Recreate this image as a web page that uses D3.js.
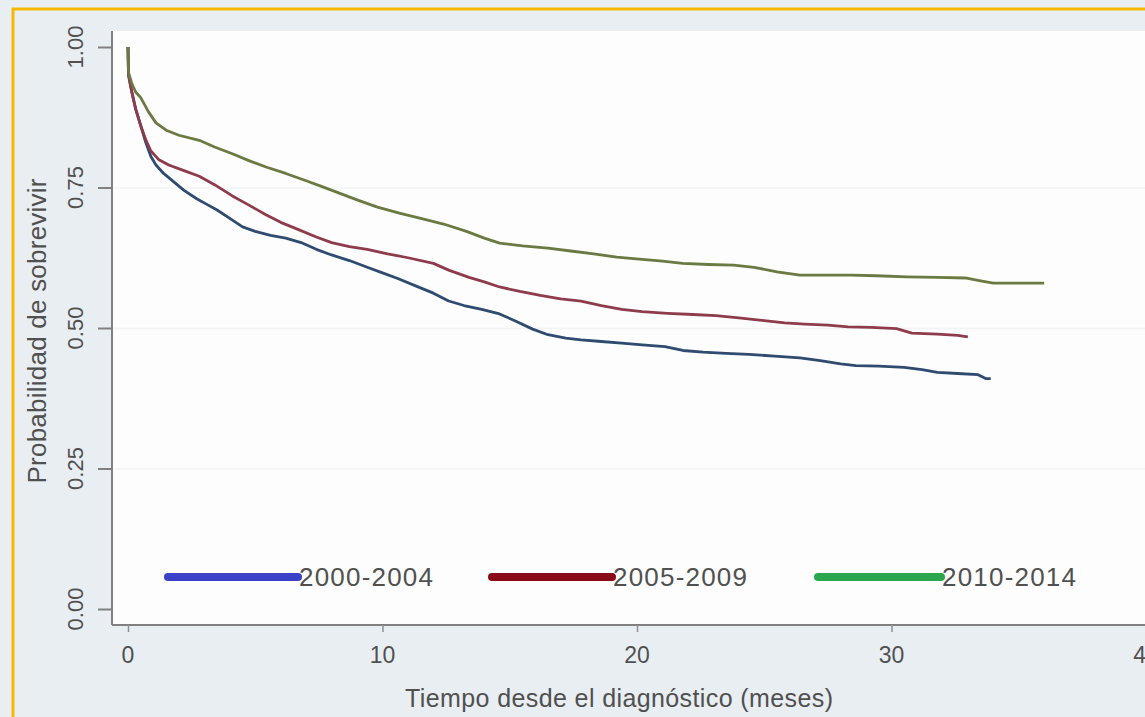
<!DOCTYPE html>
<html>
<head>
  <meta charset="utf-8">
  <script src="https://cdnjs.cloudflare.com/ajax/libs/d3/7.8.5/d3.min.js"></script>
  <style>
    body { margin: 0; background: #e9eef2; }
    text { font-family: "Liberation Sans", Arial, sans-serif; fill: #505050; }
  </style>
</head>
<body>
<svg width="1145" height="717"></svg>
<script>
var xTicks = [0, 10, 20, 30, 40];
var yTicks = [0, 0.25, 0.5, 0.75, 1];
var yTickLabels = ["0.00", "0.25", "0.50", "0.75", "1.00"];
var groups = ["2000-2004", "2005-2009", "2010-2014"];

// [months, survival]
var s2000 = [[0,1.0],[0.02,0.95],[0.15,0.92],[0.3,0.89],[0.5,0.86],[0.7,0.83],[0.9,0.805],[1.1,0.79],[1.4,0.775],[1.8,0.76],[2.2,0.745],[2.7,0.73],[3.1,0.72],[3.5,0.71],[4.0,0.695],[4.5,0.68],[5.0,0.672],[5.6,0.665],[6.2,0.66],[6.8,0.652],[7.4,0.64],[8.0,0.63],[8.7,0.62],[9.4,0.608],[10.0,0.598],[10.6,0.588],[11.3,0.575],[12.0,0.562],[12.6,0.548],[13.2,0.54],[13.9,0.533],[14.6,0.525],[15.2,0.513],[15.9,0.498],[16.5,0.488],[17.2,0.482],[17.8,0.479],[18.6,0.476],[19.4,0.473],[20.2,0.47],[21.1,0.467],[21.8,0.46],[22.6,0.457],[23.5,0.455],[24.4,0.453],[25.4,0.45],[26.4,0.447],[27.2,0.442],[28.0,0.436],[28.6,0.433],[29.5,0.432],[30.5,0.43],[31.2,0.426],[31.8,0.421],[32.6,0.419],[33.4,0.417],[33.7,0.41],[33.9,0.41]];
var s2005 = [[0,1.0],[0.02,0.95],[0.15,0.92],[0.3,0.89],[0.5,0.86],[0.7,0.835],[0.9,0.815],[1.2,0.80],[1.6,0.79],[2.2,0.78],[2.8,0.77],[3.4,0.755],[4.1,0.735],[4.7,0.72],[5.4,0.702],[6.0,0.688],[6.7,0.675],[7.4,0.662],[8.0,0.652],[8.7,0.645],[9.4,0.64],[10.2,0.632],[11.0,0.625],[12.0,0.615],[12.6,0.603],[13.4,0.59],[14.0,0.582],[14.6,0.573],[15.4,0.565],[16.2,0.558],[17.0,0.552],[17.8,0.548],[18.6,0.54],[19.4,0.533],[20.2,0.529],[21.2,0.526],[22.2,0.524],[23.1,0.522],[24.0,0.518],[25.0,0.513],[25.8,0.509],[26.6,0.507],[27.5,0.505],[28.3,0.502],[29.2,0.501],[30.2,0.499],[30.8,0.491],[31.8,0.489],[32.6,0.487],[33.0,0.484]];
var s2010 = [[0,1.0],[0.02,0.955],[0.15,0.935],[0.3,0.92],[0.5,0.91],[0.8,0.885],[1.1,0.865],[1.5,0.852],[2.0,0.843],[2.8,0.834],[3.4,0.822],[4.1,0.81],[4.8,0.797],[5.45,0.786],[6.2,0.775],[7.0,0.762],[7.6,0.752],[8.3,0.74],[9.0,0.728],[9.8,0.715],[10.7,0.704],[11.5,0.695],[12.4,0.685],[13.3,0.672],[14.0,0.66],[14.6,0.651],[15.5,0.646],[16.5,0.642],[17.4,0.637],[18.3,0.632],[19.2,0.626],[20.2,0.622],[21.0,0.619],[21.8,0.615],[22.8,0.613],[23.8,0.612],[24.6,0.608],[25.5,0.6],[26.4,0.594],[27.4,0.594],[28.4,0.594],[29.4,0.593],[30.6,0.591],[31.8,0.59],[32.9,0.589],[33.5,0.584],[34.0,0.58],[35.0,0.58],[36.0,0.58]];

var curveColors = ["#2f4b70", "#8e3b4c", "#6b7a42"];
var legendColors = ["#3c42c8", "#8b0a1a", "#2ca64c"];

var svg = d3.select("svg");

// outer frame (orange border top/left)
svg.append("rect")
  .attr("x", 13).attr("y", 9)
  .attr("width", 1145).attr("height", 720)
  .attr("fill", "#e9eef2")
  .attr("stroke", "#f7b900")
  .attr("stroke-width", 3);

// plot region
svg.append("rect")
  .attr("x", 113).attr("y", 31)
  .attr("width", 1040).attr("height", 594)
  .attr("fill", "#fdfdfd");

var x = d3.scaleLinear().domain([0, 40]).range([128, 1146]);
var y = d3.scaleLinear().domain([0, 1]).range([609, 47]);

// grid
svg.append("g")
  .attr("transform", "translate(113,0)")
  .call(d3.axisLeft(y).tickValues([0.25, 0.5, 0.75]).tickSize(-1040).tickFormat(""))
  .call(g => g.select(".domain").remove())
  .selectAll("line").attr("stroke", "#f1f3f5").attr("stroke-width", 1.5);

// y axis
var yAxis = svg.append("g")
  .attr("transform", "translate(112,0)")
  .call(d3.axisLeft(y).tickValues(yTicks).tickSize(14).tickFormat(""));
yAxis.select(".domain").attr("d", "M0,31V625").attr("stroke", "#808080").attr("stroke-width", 2);
yAxis.selectAll("line").attr("stroke", "#808080").attr("stroke-width", 2);

svg.selectAll(".ylab")
  .data(yTicks)
  .enter().append("text")
    .attr("class", "ylab")
    .attr("transform", d => "translate(83," + y(d) + ") rotate(-90)")
    .attr("text-anchor", "middle")
    .style("font-size", "22px")
    .text((d, i) => yTickLabels[i]);

svg.append("text")
  .attr("transform", "translate(46,331) rotate(-90)")
  .attr("text-anchor", "middle")
  .attr("textLength", 305)
  .style("font-size", "26px")
  .text("Probabilidad de sobrevivir");

// x axis
var xAxis = svg.append("g")
  .attr("transform", "translate(0,625)")
  .call(d3.axisBottom(x).tickValues(xTicks).tickSize(7).tickFormat(""));
xAxis.select(".domain").attr("d", "M112,0H1145").attr("stroke", "#808080").attr("stroke-width", 2);
xAxis.selectAll("line").attr("stroke", "#909090").attr("stroke-width", 1.5);

svg.selectAll(".xlab")
  .data(xTicks)
  .enter().append("text")
    .attr("class", "xlab")
    .attr("x", d => x(d))
    .attr("y", 663)
    .attr("text-anchor", "middle")
    .style("font-size", "23px")
    .text(d => d);

svg.append("text")
  .attr("x", 619)
  .attr("y", 707)
  .attr("text-anchor", "middle")
  .attr("textLength", 428)
  .style("font-size", "25px")
  .text("Tiempo desde el diagnóstico (meses)");

// survival curves
var line = d3.line()
  .x(d => x(d[0]))
  .y(d => y(d[1]));

svg.selectAll(".km")
  .data([s2000, s2005, s2010])
  .enter().append("path")
    .attr("class", "km")
    .attr("d", line)
    .attr("fill", "none")
    .attr("stroke", (d, i) => curveColors[i])
    .attr("stroke-width", 2.8)
    .attr("stroke-linejoin", "round");

// legend
var legX = [[168, 298], [492, 612], [818, 941]];
var leg = svg.selectAll(".leg")
  .data(groups)
  .enter().append("g")
    .attr("class", "leg");
leg.append("line")
  .attr("x1", (d, i) => legX[i][0])
  .attr("x2", (d, i) => legX[i][1])
  .attr("y1", 577).attr("y2", 577)
  .attr("stroke", (d, i) => legendColors[i])
  .attr("stroke-width", 8)
  .attr("stroke-linecap", "round");
leg.append("text")
  .attr("x", (d, i) => legX[i][1] + 1)
  .attr("y", 586)
  .attr("textLength", 134)
  .style("font-size", "26px")
  .text(d => d);
</script>
</body>
</html>
